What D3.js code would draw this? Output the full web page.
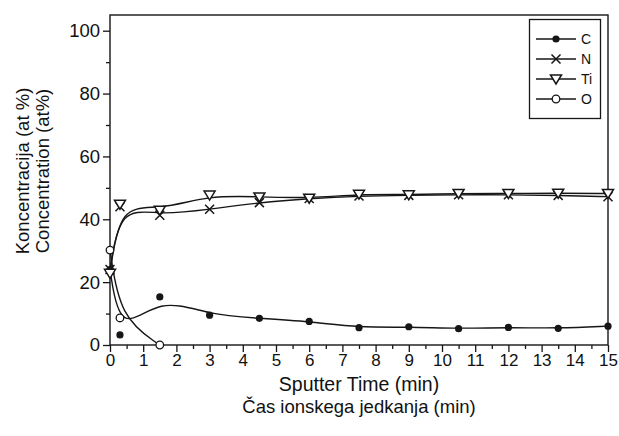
<!DOCTYPE html>
<html>
<head>
<meta charset="utf-8">
<script src="https://cdn.jsdelivr.net/npm/d3@7"></script>
<style>
body{margin:0;background:#fff;}
text{font-family:"Liberation Sans",Arial,sans-serif;fill:#111;}
</style>
</head>
<body>
<svg class="chart" width="619" height="436"></svg>
<script>
// sputter times (min) and concentrations (at %)
var times = [0, 0.3, 1.5, 3, 4.5, 6, 7.5, 9, 10.5, 12, 13.5, 15];
var cVals = [24, 3.2, 15.3, 9.5, 8.5, 7.5, 5.5, 5.8, 5.2, 5.6, 5.3, 6.0];
var nVals = [24, 44, 41.3, 43.2, 45.3, 46.6, 47.4, 47.6, 47.8, 47.8, 47.6, 47.2];
var tiVals = [22.8, 44.8, 42.9, 47.7, 47.1, 46.7, 48, 47.8, 48.2, 48.2, 48.3, 48.2];
var oTimes = [0, 0.3, 1.5];
var oVals = [30.2, 8.6, 0];

var xTicks = d3.range(0, 16, 1);
var yTicks = [0, 20, 40, 60, 80, 100];
var legendNames = ["C", "N", "Ti", "O"];

var pLeft = 110, pRight = 608, pTop = 15, pBottom = 345;
var ink = "#161616";

var svg = d3.select(".chart");

var scaleX = d3.scaleLinear().domain([0, 15]).range([pLeft, pRight]);
var scaleY = d3.scaleLinear().domain([0, 105]).range([pBottom, pTop]);

//frame
svg.append("rect")
	.attr("x", pLeft).attr("y", pTop)
	.attr("width", pRight - pLeft).attr("height", pBottom - pTop)
	.style("fill", "none").style("stroke", ink).style("stroke-width", 1.4);

//axes: major ticks with labels, minor ticks without
var xAxis = d3.axisBottom(scaleX).tickValues(xTicks).tickSize(7).tickPadding(2).tickFormat(d3.format("d"));
var xMinor = d3.axisBottom(scaleX).tickValues(d3.range(0.5, 15, 1)).tickSize(4).tickFormat("");
var yAxis = d3.axisLeft(scaleY).tickValues(yTicks).tickSize(7).tickPadding(3).tickFormat(d3.format("d"));
var yMinor = d3.axisLeft(scaleY).tickValues(d3.range(10, 101, 20)).tickSize(4).tickFormat("");

[[xAxis, "translate(0," + pBottom + ")", 17], [xMinor, "translate(0," + pBottom + ")", 17],
 [yAxis, "translate(" + pLeft + ",0)", 18.5], [yMinor, "translate(" + pLeft + ",0)", 18.5]].forEach(function(a){
	var g = svg.append("g").attr("class", "axis").attr("transform", a[1]).call(a[0]);
	g.select(".domain").remove();
	g.selectAll("line").style("stroke", ink).style("stroke-width", 1.3);
	g.selectAll("text").style("font-size", a[2] + "px").style("font-family", "Liberation Sans, Arial, sans-serif").style("fill", "#111");
});

//axis titles
svg.append("text").attr("x", (pLeft + pRight) / 2).attr("y", 391)
	.attr("text-anchor", "middle").style("font-size", "19.5px").text("Sputter Time (min)");
svg.append("text").attr("x", (pLeft + pRight) / 2).attr("y", 413)
	.attr("text-anchor", "middle").style("font-size", "18.5px").text("Čas ionskega jedkanja (min)");
svg.append("text").attr("transform", "translate(29,171) rotate(-90)")
	.attr("text-anchor", "middle").style("font-size", "18.5px").text("Koncentracija (at %)");
svg.append("text").attr("transform", "translate(49,171) rotate(-90)")
	.attr("text-anchor", "middle").style("font-size", "18.5px").text("Concentration (at%)");

//markers
function drawMarker(g, kind, x, y){
	if(kind == "C"){
		g.append("circle").attr("cx", x).attr("cy", y).attr("r", 3.6).style("fill", ink);
	} else if(kind == "O"){
		g.append("circle").attr("cx", x).attr("cy", y).attr("r", 3.8)
			.style("fill", "#fff").style("stroke", ink).style("stroke-width", 1.3);
	} else if(kind == "N"){
		g.append("path").attr("d", "M" + (x - 4.5) + "," + (y - 4.5) + "L" + (x + 4.5) + "," + (y + 4.5) +
			"M" + (x - 4.5) + "," + (y + 4.5) + "L" + (x + 4.5) + "," + (y - 4.5))
			.style("stroke", ink).style("stroke-width", 1.5).style("fill", "none");
	} else {
		g.append("path").attr("d", "M" + (x - 5.5) + "," + (y - 4) + "L" + (x + 5.5) + "," + (y - 4) + "L" + x + "," + (y + 5) + "Z")
			.style("stroke", ink).style("stroke-width", 1.5).style("fill", "#fff");
	}
}

var series = [
	{name: "C", t: times, v: cVals},
	{name: "N", t: times, v: nVals},
	{name: "Ti", t: times, v: tiVals},
	{name: "O", t: oTimes, v: oVals}
];

var line = d3.line()
	.x(function(d){return scaleX(d[0]);})
	.y(function(d){return scaleY(d[1]);})
	.curve(d3.curveBasis);

series.forEach(function(s){
	var pts = s.t.map(function(t, i){return [t, s.v[i]];});
	svg.append("path").datum(pts).attr("d", line)
		.style("fill", "none").style("stroke", ink).style("stroke-width", 1.4);
});

series.forEach(function(s){
	var g = svg.append("g").attr("class", "marks-" + s.name);
	s.t.forEach(function(t, i){
		drawMarker(g, s.name, scaleX(t), scaleY(s.v[i]));
	});
});

//legend
var legend = svg.append("g").attr("class", "legend");
legend.append("rect").attr("x", 529.5).attr("y", 19.5).attr("width", 71).attr("height", 99)
	.style("fill", "#fff").style("stroke", ink).style("stroke-width", 1.3);
legendNames.forEach(function(d, i){
	var y = 39 + i * 20;
	legend.append("line").attr("x1", 536).attr("x2", 576).attr("y1", y).attr("y2", y)
		.style("stroke", ink).style("stroke-width", 1.3);
	drawMarker(legend, d, 556, y);
	legend.append("text").attr("x", 581).attr("y", y + 5).style("font-size", "14px").text(d);
});
</script>
</body>
</html>
